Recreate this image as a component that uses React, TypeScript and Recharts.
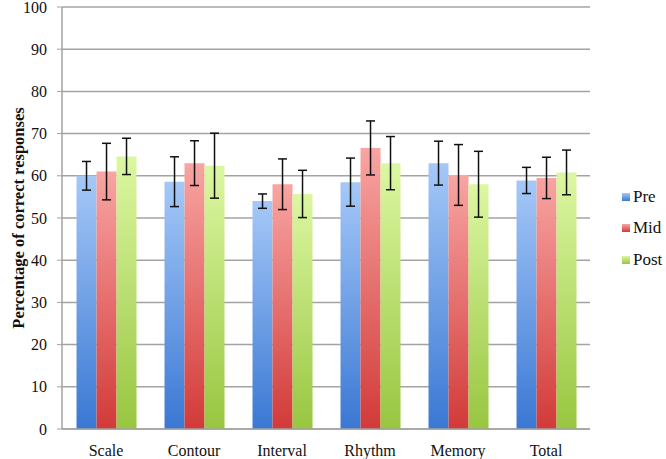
import { BarChart, Bar, XAxis, YAxis, CartesianGrid, ErrorBar, Label } from 'recharts'

// ── Data ──────────────────────────────────────────────────────────────────────

const categories = ['Scale', 'Contour', 'Interval', 'Rhythm', 'Memory', 'Total']

const pre = [60.0, 58.6, 54.0, 58.5, 63.0, 58.9]
const preErr = [3.4, 5.9, 1.7, 5.7, 5.2, 3.1]

const mid = [61.0, 63.0, 58.0, 66.6, 60.2, 59.5]
const midErr = [6.7, 5.3, 6.0, 6.4, 7.2, 4.9]

const post = [64.6, 62.4, 55.7, 63.0, 58.0, 60.8]
const postErr = [4.3, 7.7, 5.6, 6.3, 7.8, 5.3]

const yTicks = [0, 10, 20, 30, 40, 50, 60, 70, 80, 90, 100]
const boundaryTicks = [0, 1, 2, 3, 4, 5, 6]

const data = categories.map((name, i) => ({
  name,
  pre: pre[i],
  preErr: preErr[i],
  mid: mid[i],
  midErr: midErr[i],
  post: post[i],
  postErr: postErr[i],
}))

// ── Palette ───────────────────────────────────────────────────────────────────

const SERIES = [
  { key: 'pre', label: 'Pre', grad: 'gPre', top: '#a5c8f7', bottom: '#3a78d4' },
  { key: 'mid', label: 'Mid', grad: 'gMid', top: '#f8a5a3', bottom: '#d23a38' },
  { key: 'post', label: 'Post', grad: 'gPost', top: '#dcf7a2', bottom: '#98c640' },
]

const GRID = '#a3a3a3'
const FONT = '"Liberation Serif", "DejaVu Serif", serif'

// ── Legend (plain HTML, right of the plot) ────────────────────────────────────

function LegendBox() {
  return (
    <div
      style={{
        position: 'absolute',
        left: 622,
        top: 181,
        fontFamily: FONT,
        fontSize: 17,
        color: '#111',
      }}
    >
      {SERIES.map((s) => (
        <div key={s.key} style={{ display: 'flex', alignItems: 'center', height: 31.5 }}>
          <span
            style={{
              display: 'inline-block',
              width: 8,
              height: 8,
              marginRight: 3,
              background: `linear-gradient(${s.top}, ${s.bottom})`,
            }}
          />
          {s.label}
        </div>
      ))}
    </div>
  )
}

export default function App() {
  return (
    <div style={{ position: 'fixed', left: 0, top: 0, width: 666, height: 459, background: '#fff' }}>
      <BarChart
        width={666}
        height={459}
        data={data}
        margin={{ top: 7, right: 76, left: 0, bottom: 0 }}
        barCategoryGap="16.5%"
        barGap={0}
      >
        <defs>
          {SERIES.map((s) => (
            <linearGradient key={s.grad} id={s.grad} x1="0" y1="0" x2="0" y2="1">
              <stop offset="0%" stopColor={s.top} />
              <stop offset="100%" stopColor={s.bottom} />
            </linearGradient>
          ))}
        </defs>
        <CartesianGrid vertical={false} stroke={GRID} strokeWidth={1.5} />
        <XAxis
          xAxisId="edge"
          type="number"
          domain={[0, 6]}
          ticks={boundaryTicks}
          tick={false}
          tickSize={4}
          tickLine={{ stroke: GRID }}
          axisLine={false}
          height={1}
        />
        <XAxis
          xAxisId="cat"
          dataKey="name"
          height={29}
          axisLine={{ stroke: GRID, strokeWidth: 1.5 }}
          tickLine={false}
          tick={{ fontFamily: FONT, fontSize: 16, fill: '#111' }}
          tickMargin={10}
        />
        <YAxis
          domain={[0, 100]}
          ticks={yTicks}
          width={62}
          axisLine={{ stroke: GRID, strokeWidth: 1.5 }}
          tickLine={{ stroke: GRID }}
          tickSize={5}
          tickMargin={10}
          tick={{ fontFamily: FONT, fontSize: 16, fill: '#111' }}
          interval={0}
        >
          <Label
            value="Percentage of correct responses"
            angle={-90}
            position="insideLeft"
            offset={18}
            style={{ fontFamily: FONT, fontSize: 16.5, fontWeight: 'bold', fill: '#111', textAnchor: 'middle' }}
          />
        </YAxis>
        {SERIES.map((s) => (
          <Bar
            key={s.key}
            xAxisId="cat"
            dataKey={s.key}
            name={s.label}
            fill={`url(#${s.grad})`}
            isAnimationActive={false}
          >
            <ErrorBar dataKey={`${s.key}Err`} width={4.5} stroke="#111" strokeWidth={1.5} direction="y" />
          </Bar>
        ))}
      </BarChart>
      <LegendBox />
    </div>
  )
}
